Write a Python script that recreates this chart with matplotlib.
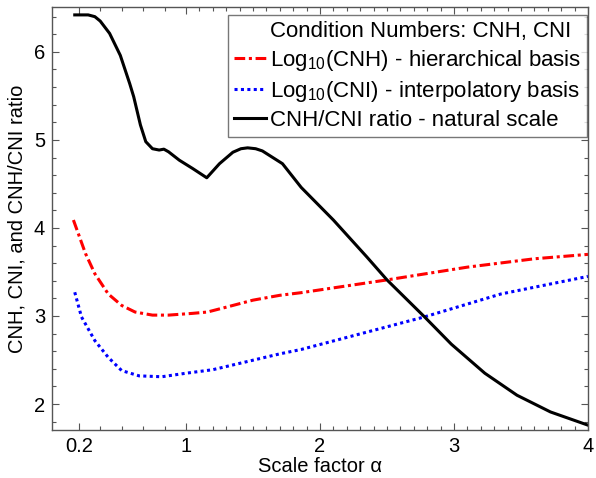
import numpy as np
import matplotlib
matplotlib.use('Agg')
import matplotlib.pyplot as plt
from matplotlib.lines import Line2D

plt.rcParams['font.family'] = ['Liberation Sans', 'DejaVu Sans']
plt.rcParams['mathtext.fontset'] = 'custom'
plt.rcParams['mathtext.rm'] = 'Liberation Sans'
plt.rcParams['mathtext.it'] = 'Liberation Sans:italic'

# curve values
alfa_cnh = [0.16, 0.25, 0.32, 0.42, 0.52, 0.62, 0.75, 0.87, 1.05, 1.16, 1.30,
            1.50, 1.70, 1.86, 2.50, 3.10, 3.60, 4.00]
log_cnh = [4.09, 3.71, 3.48, 3.25, 3.12, 3.045, 3.01, 3.01, 3.03, 3.045, 3.10,
           3.18, 3.235, 3.265, 3.41, 3.555, 3.65, 3.70]

alfa_cni = [0.17, 0.22, 0.32, 0.42, 0.52, 0.65, 0.82, 1.00, 1.20, 1.45, 1.70,
            1.86, 2.78, 3.35, 4.00]
log_cni = [3.27, 2.99, 2.72, 2.53, 2.38, 2.32, 2.31, 2.35, 2.39, 2.48, 2.57,
           2.62, 2.99, 3.25, 3.45]

alfa_ratio = [0.17, 0.27, 0.32, 0.36, 0.43, 0.51, 0.58, 0.61, 0.66, 0.70, 0.75,
              0.80, 0.835, 0.87, 0.95, 1.05, 1.155, 1.25, 1.35, 1.41, 1.46,
              1.52, 1.57, 1.72, 1.86, 2.10, 2.35, 2.50, 2.78, 2.98, 3.23,
              3.47, 3.72, 4.00]
ratio = [6.42, 6.42, 6.40, 6.35, 6.21, 5.96, 5.64, 5.49, 5.17, 4.98, 4.90,
         4.885, 4.895, 4.865, 4.77, 4.675, 4.57, 4.73, 4.86, 4.90, 4.91,
         4.90, 4.875, 4.73, 4.46, 4.09, 3.67, 3.41, 2.99, 2.68, 2.35,
         2.10, 1.91, 1.76]

xticks = [0.2, 1, 2, 3, 4]
xtick_labels = ['0.2', '1', '2', '3', '4']
yticks = [2, 3, 4, 5, 6]

fig = plt.figure(figsize=(5.96, 4.78), dpi=100)
ax = fig.add_axes([0.0872, 0.1004, 0.8994, 0.885])

ax.plot(alfa_cnh, log_cnh, color='red', lw=2.2, linestyle=(0, (3.5, 1.2, 1, 1.2)))
ax.plot(alfa_cni, log_cni, color='blue', lw=2.2, linestyle=(0, (1, 1.1)))
ax.plot(alfa_ratio, ratio, color='black', lw=2.2)

ax.set_xlim(0, 4)
ax.set_ylim(1.705, 6.51)
ax.set_xticks(xticks)
ax.set_xticklabels(xtick_labels)
ax.set_xticks(list(np.arange(0.36, 0.99, 0.16)) + list(np.arange(1.1, 4, 0.1)), minor=True)
ax.set_yticks(yticks)
ax.set_yticks(np.arange(1.8, 6.5, 0.2), minor=True)

for s in ax.spines.values():
    s.set_color('#555555')
    s.set_linewidth(1.0)
ax.tick_params(which='both', direction='in', top=True, right=True, colors='#555555',
               labelcolor='black', labelsize=14.5, width=0.8)
ax.tick_params(which='major', length=5, pad=5)
ax.tick_params(which='minor', length=3)

ax.set_xlabel('Scale factor α', fontsize=14.5, labelpad=1)
ax.set_ylabel('CNH, CNI, and CNH/CNI ratio', fontsize=14.5, labelpad=5)

# legend: first row is a heading without a line
handles = [Line2D([], [], color='none'),
           Line2D([], [], color='red', lw=2.2, linestyle=(0, (3.5, 1.2, 1, 1.2))),
           Line2D([], [], color='blue', lw=2.2, linestyle=(0, (1, 1.1))),
           Line2D([], [], color='black', lw=2.2)]
labels = ['Condition Numbers: CNH, CNI',
          'Log$_{10}$(CNH) - hierarchical basis',
          'Log$_{10}$(CNI) - interpolatory basis',
          'CNH/CNI ratio - natural scale']
leg = ax.legend(handles, labels, loc='upper right', bbox_to_anchor=(0.998, 0.981),
                fontsize=16, frameon=True, fancybox=False, edgecolor='#555555',
                handlelength=1.45, handletextpad=0.2, labelspacing=0.28,
                borderpad=0.25, borderaxespad=0)
leg.get_frame().set_linewidth(1.0)

fig.savefig('out.png', dpi=100)
